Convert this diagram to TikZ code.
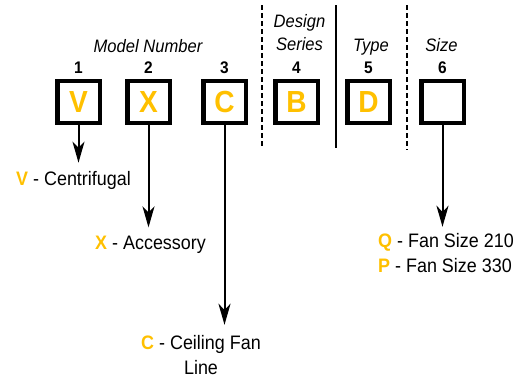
\documentclass[tikz,border=0pt]{standalone}
\usepackage{fontspec}
\setmainfont{Liberation Sans}[FakeStretch=0.92]
\usepackage{xcolor}
\usetikzlibrary{arrows.meta, positioning}
\definecolor{codeyellow}{RGB}{255,192,0}

\begin{document}
\begin{tikzpicture}[
        x=1pt, y=-1pt,
        codebox/.style={
            draw,
            line width=4.5pt,
            minimum width=42.5pt,
            minimum height=42pt,
            inner sep=0pt,
            text=codeyellow,
            font=\fontsize{30.5}{32}\selectfont\bfseries
        },
        digit/.style={font=\fontsize{16.8}{18}\selectfont\bfseries, inner sep=0pt},
        heading/.style={font=\fontsize{18}{23}\selectfont\itshape, align=center, inner sep=0pt},
        meaning/.style={font=\fontsize{19.5}{25}\selectfont, inner sep=0pt},
        divider/.style={line width=1.8pt},
        arrow/.style={-{Stealth[length=21pt, width=12pt, inset=6pt]}, line width=2pt, shorten >=8pt}
    ]
        \useasboundingbox (0,0) rectangle (522,383);

        % code boxes
        \node[codebox] (v) at (78.5,102) {V};
        \node[codebox, right=23pt of v] (x) {X};
        \node[codebox, right=29pt of x] (c) {C};
        \node[codebox, right=25pt of c] (b) {B};
        \node[codebox, right=25pt of b] (d) {D};
        \node[codebox, right=27pt of d] (size) {};

        % position numbers
        \node[digit, above=5pt of v] (n1) {1};
        \node[digit, above=5pt of x] (n2) {2};
        \node[digit, above=5pt of c] (n3) {3};
        \node[digit, above=5pt of b] (n4) {4};
        \node[digit, above=5pt of d] (n5) {5};
        \node[digit, above=5pt of size] (n6) {6};

        % headings
        \node[heading, anchor=base] (model) at (148,52) {Model Number};
        \node[heading, anchor=south] (series) at (299.5,51) {Design\\Series};
        \node[heading, anchor=base] (type) at (371,51) {Type};
        \node[heading, anchor=base] (sizehead) at (441.5,51) {Size};

        % dividers
        \draw[divider, dash pattern=on 5pt off 3pt] (262,5) -- (262,148);
        \draw[divider] (336,5) -- (336,148);
        \draw[divider, dash pattern=on 5pt off 3pt] (407,5) -- (407,150);

        % meanings
        \node[meaning, anchor=base west] (vtext) at (16,185)
            {\textcolor{codeyellow}{\bfseries V} - Centrifugal};
        \node[meaning, anchor=base west] (xtext) at (95,249)
            {\textcolor{codeyellow}{\bfseries X} - Accessory};
        \node[meaning, anchor=north, align=center] (ctext) at (201,334.8)
            {\textcolor{codeyellow}{\bfseries C} - Ceiling Fan\\Line};
        \node[meaning, anchor=north west, align=left] (sizetext) at (378,232.8)
            {\textcolor{codeyellow}{\bfseries Q} - Fan Size 210\\\textcolor{codeyellow}{\bfseries P} - Fan Size 330};

        \draw[arrow] (v.south) -- (v.south |- vtext.north);
        \draw[arrow] (x.south) -- (x.south |- xtext.north);
        \draw[arrow, shorten >=10pt] (c.south) -- (c.south |- ctext.north);
        \draw[arrow, shorten >=6pt] (size.south) -- (size.south |- sizetext.north);
    \end{tikzpicture}
\end{document}
